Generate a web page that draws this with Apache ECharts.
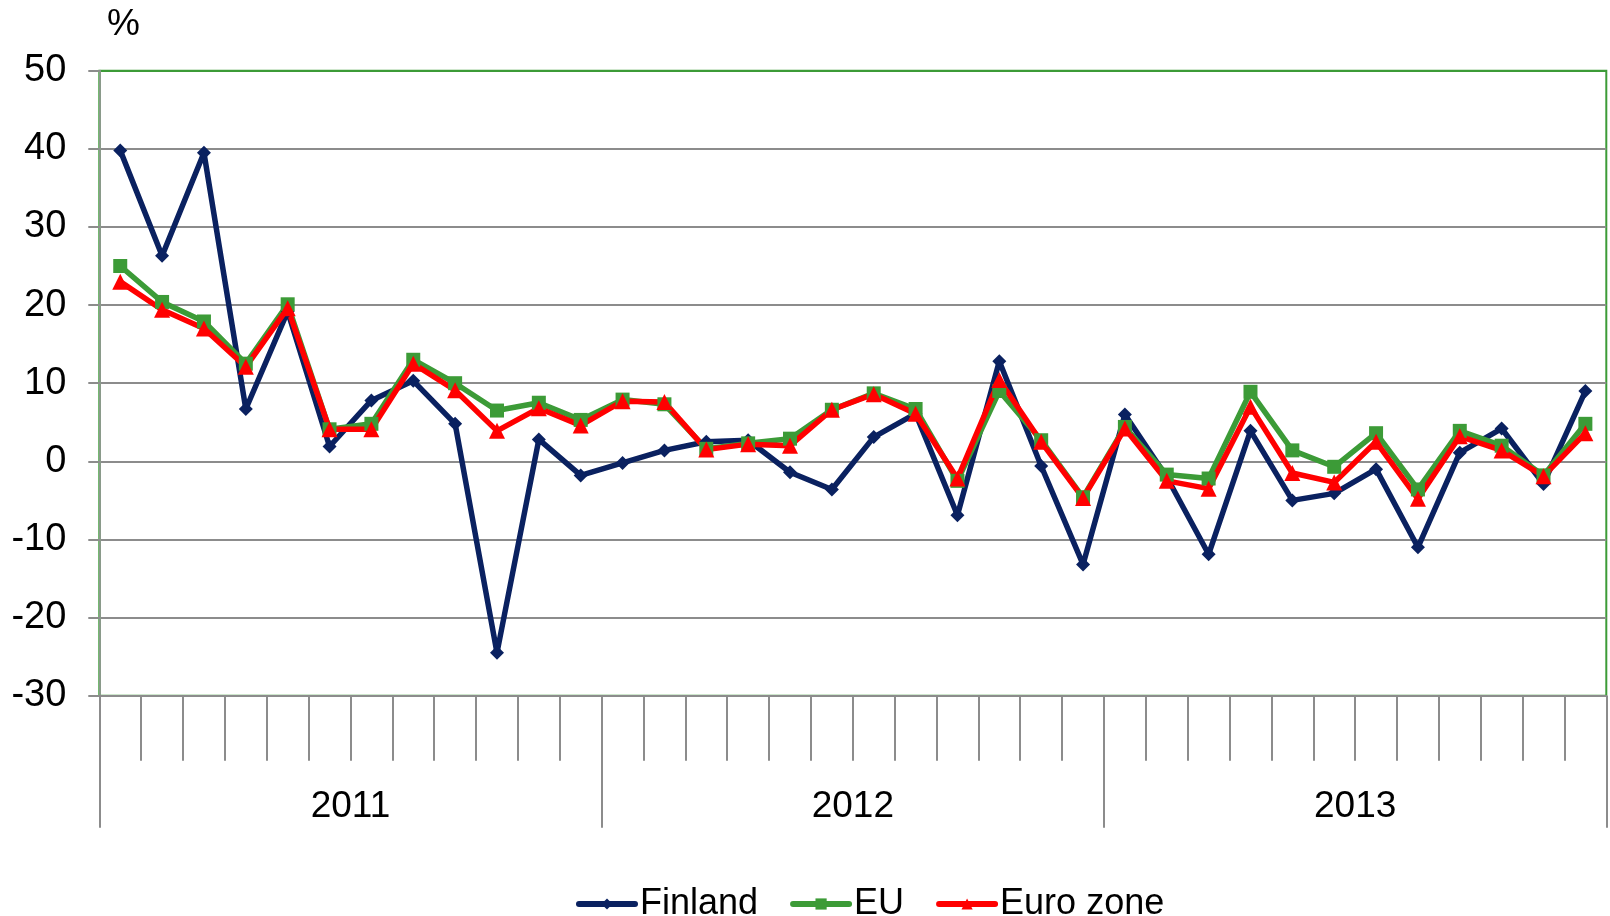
<!DOCTYPE html>
<html>
<head>
<meta charset="utf-8">
<script src="https://cdn.jsdelivr.net/npm/echarts@6/dist/echarts.min.js"></script>
<style>
  html, body { margin: 0; padding: 0; background: #fff; }
  #chart { width: 1610px; height: 916px; }
</style>
</head>
<body>
<div id="chart"></div>
<script>
// months Jan 2011 .. Dec 2013
const months = [];
for (let y = 2011; y <= 2013; y++) {
  for (let m = 1; m <= 12; m++) months.push(y + '-' + m);
}
const years = ['2011', '2012', '2013'];

const finland = [39.8, 26.3, 39.5, 6.7, 19.2, 1.9, 7.8, 10.3, 4.8, -24.5, 2.8, -1.8,
  -0.2, 1.4, 2.5, 2.7, -1.4, -3.6, 3.1, 6.1, -6.9, 12.8, -0.6, -13.2,
  6.0, -2.0, -11.9, 3.9, -5.0, -4.1, -1.0, -11.0, 1.1, 4.2, -2.9, 9.0];
const eu = [25.0, 20.4, 17.9, 12.5, 20.1, 4.1, 4.8, 13.0, 10.0, 6.5, 7.5, 5.3,
  7.9, 7.3, 1.6, 2.3, 2.9, 6.6, 8.7, 6.7, -2.5, 9.0, 2.7, -4.6,
  4.4, -1.7, -2.2, 8.9, 1.4, -0.7, 3.6, -3.6, 3.9, 2.0, -1.8, 4.8];
const euroZone = [23.0, 19.4, 17.0, 12.1, 19.6, 4.1, 4.1, 12.5, 9.1, 3.9, 6.8, 4.6,
  7.7, 7.6, 1.5, 2.2, 2.0, 6.6, 8.6, 6.1, -2.2, 10.4, 2.5, -4.7,
  4.2, -2.5, -3.5, 7.0, -1.5, -2.7, 2.5, -4.8, 3.2, 1.4, -1.9, 3.6];

const font = "'Liberation Sans', Arial, sans-serif";
const gray = '#8c8c8c';
const green = '#3c9b37';

const chart = echarts.init(document.getElementById('chart'));

chart.setOption({
  animation: false,
  title: {
    text: '%',
    left: 102,
    top: 1,
    textStyle: { fontFamily: font, fontSize: 37, fontWeight: 'normal', color: '#000' }
  },
  legend: {
    left: 576,
    top: 886,
    padding: 0,
    itemWidth: 56,
    itemHeight: 14,
    itemGap: 32,
    lineStyle: { width: 6, cap: 'round' },
    textStyle: { fontFamily: font, fontSize: 36, color: '#000' },
    data: ['Finland', 'EU', 'Euro zone']
  },
  grid: {
    left: 99.3,
    right: 3.7,
    top: 70.7,
    bottom: 220.3,
    show: true,
    borderColor: green,
    borderWidth: 2,
    backgroundColor: 'transparent'
  },
  xAxis: [
    {
      type: 'category',
      data: months,
      position: 'bottom',
      boundaryGap: true,
      axisLine: { onZero: false, lineStyle: { color: gray, width: 2 } },
      axisTick: { show: true, interval: 0, length: 65, lineStyle: { color: gray, width: 2 } },
      axisLabel: { show: false }
    },
    {
      type: 'category',
      data: years,
      position: 'bottom',
      boundaryGap: true,
      axisLine: { show: false, onZero: false },
      axisTick: { show: true, interval: 0, length: 132, lineStyle: { color: gray, width: 2 } },
      axisLabel: { margin: 93, fontFamily: font, fontSize: 37, color: '#000' }
    }
  ],
  yAxis: {
    type: 'value',
    min: -30,
    max: 50,
    interval: 10,
    axisLine: { show: true, lineStyle: { color: '#8a9a8a', width: 2 } },
    axisTick: { show: true, length: 11, lineStyle: { color: gray, width: 2 } },
    axisLabel: { margin: 33, fontFamily: font, fontSize: 38, color: '#000' },
    splitLine: {
      lineStyle: {
        color: [gray, gray, gray, gray, gray, gray, gray, gray, green],
        width: 2
      }
    }
  },
  series: [
    {
      name: 'Finland',
      type: 'line',
      data: finland,
      symbol: 'diamond',
      symbolSize: 14,
      itemStyle: { color: '#0a2160' },
      lineStyle: { color: '#0a2160', width: 5.5 }
    },
    {
      name: 'EU',
      type: 'line',
      data: eu,
      symbol: 'rect',
      symbolSize: 14,
      itemStyle: { color: '#3c9b37' },
      lineStyle: { color: '#3c9b37', width: 5.5 }
    },
    {
      name: 'Euro zone',
      type: 'line',
      data: euroZone,
      symbol: 'triangle',
      symbolSize: 16,
      itemStyle: { color: '#ff0000' },
      lineStyle: { color: '#ff0000', width: 5.5 }
    }
  ]
});
</script>
</body>
</html>
